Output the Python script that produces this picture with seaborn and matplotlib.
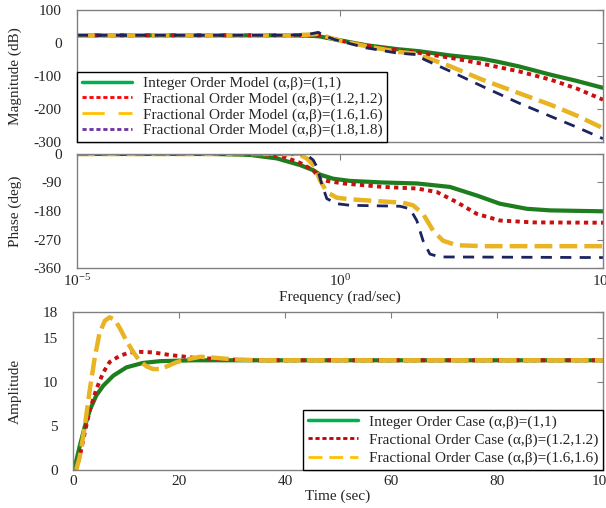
import matplotlib
matplotlib.use("Agg")
import numpy as np
import matplotlib.pyplot as plt
import seaborn as sns
from matplotlib.lines import Line2D

# ---- Bode magnitude (log10 rad/sec, dB)
mag_lw_int = [-5, -1.0, -0.6, -0.4, -0.2, 0, 0.5, 1.1, 1.5, 2.1, 2.7, 3.0, 3.4, 4.0, 4.5, 5]
mag_int = [23, 23, 22, 20, 14, 8, -7, -19, -25, -38, -48, -57, -71, -96, -115, -136]
mag_lw_12 = [-5, -1.0, -0.6, -0.4, -0.2, 0, 0.5, 1.1, 1.5, 2.1, 2.7, 3.4, 4.0, 4.5, 5]
mag_12 = [23, 23, 23, 22, 15, 7, -8, -22, -30, -45, -63, -86, -111, -138, -172]
mag_lw_16 = [-5, -1.0, -0.6, -0.41, -0.2, 0, 0.5, 1.1, 1.45, 1.65, 2.1, 2.7, 3.4, 4.0, 4.5, 5]
mag_16 = [23, 23, 25, 28, 16, 7, -10, -27, -33, -45, -71, -111, -152, -187, -220, -258]
mag_lw_18 = [-5, -1.0, -0.6, -0.41, -0.3, -0.1, 0.5, 1.1, 1.45, 1.6, 2.1, 2.7, 3.4, 4.0, 4.5, 5]
mag_18 = [23, 23, 26, 32, 22, 10, -15, -31, -35, -50, -86, -131, -182, -222, -255, -290]

# ---- Bode phase (log10 rad/sec, deg)
ph_lw_int = [-5, -2.4, -1.71, -1.2, -0.76, -0.51, -0.38, -0.13, 0.19, 0.82, 1.46, 2.09, 2.6, 3.04, 3.55, 3.99, 5]
ph_int = [0, 0, -3, -14, -35, -51, -65, -78, -85, -90, -93, -104, -131, -157, -173, -178, -181]
ph_lw_12 = [-5, -1.5, -1.08, -0.76, -0.51, -0.38, -0.25, 0.06, 0.82, 1.46, 1.84, 2.22, 2.6, 3.04, 3.68, 5]
ph_12 = [0, 0, -8, -28, -51, -78, -85, -93, -104, -109, -120, -152, -189, -210, -216, -217]
ph_lw_16 = [-5, -0.9, -0.76, -0.63, -0.48, -0.38, -0.25, -0.06, 0.19, 0.82, 1.2, 1.39, 1.58, 1.77, 1.96, 2.22, 2.72, 5]
ph_16 = [0, 0, -3, -14, -40, -83, -120, -138, -143, -150, -154, -162, -189, -242, -274, -288, -291, -291]
ph_lw_18 = [-5, -0.7, -0.63, -0.51, -0.44, -0.35, -0.25, -0.06, 0.19, 1.14, 1.33, 1.46, 1.58, 1.71, 1.9, 5]
ph_18 = [0, 0, -3, -19, -40, -93, -141, -157, -162, -165, -173, -210, -274, -316, -325, -327]

# ---- Step response (sec, amplitude)
t_int = [0.2, 1.26, 2.2, 3.15, 4.4, 5.7, 7.6, 10.1, 13.2, 16.4, 19.6, 22.7, 30, 100]
y_int = [0, 2.7, 4.9, 6.8, 8.5, 9.6, 10.75, 11.7, 12.2, 12.4, 12.45, 12.5, 12.5, 12.5]
t_12 = [0.6, 1.26, 2.2, 3.15, 4.4, 5.7, 6.9, 8.8, 10.7, 12.6, 15.1, 18.3, 22.7, 29, 35, 100]
y_12 = [0, 1.5, 4.2, 6.8, 9.2, 11.1, 12.3, 13.0, 13.4, 13.46, 13.4, 13.1, 12.8, 12.6, 12.5, 12.5]
t_16 = [0.6, 1.26, 2.2, 3.15, 4.1, 5.0, 6.0, 6.9, 7.9, 8.8, 10.1, 11.4, 12.6, 13.9, 15.1, 16.4,
        17.7, 19.6, 21.5, 24, 26.5, 30.3, 35, 100]
y_16 = [0, 1.5, 4.9, 9.1, 12.8, 15.6, 17.0, 17.4, 17.1, 16.2, 14.7, 13.4, 12.4, 11.8, 11.5, 11.5,
        11.8, 12.3, 12.6, 12.9, 12.8, 12.6, 12.5, 12.5]

bode_labels = ["Integer Order Model (\u03b1,\u03b2)=(1,1)",
               "Fractional Order Model (\u03b1,\u03b2)=(1.2,1.2)",
               "Fractional Order Model (\u03b1,\u03b2)=(1.6,1.6)",
               "Fractional Order Model (\u03b1,\u03b2)=(1.8,1.8)"]
step_labels = ["Integer Order Case (\u03b1,\u03b2)=(1,1)",
               "Fractional Order Case (\u03b1,\u03b2)=(1.2,1.2)",
               "Fractional Order Case (\u03b1,\u03b2)=(1.6,1.6)"]

sns.set_style("white")
plt.rcParams["font.family"] = ["Liberation Serif", "DejaVu Serif"]
plt.rcParams["mathtext.fontset"] = "custom"
plt.rcParams["mathtext.rm"] = "Liberation Serif"
plt.rcParams["axes.unicode_minus"] = False
plt.rcParams["font.size"] = 11

# line styles: (color, width, dashes)
styles = [("#1e7d1e", 3.0, None),
          ("#c81010", 2.8, (1.1, 1.1)),
          ("#e8b423", 3.2, (4.0, 1.6)),
          ("#1c2460", 2.0, (4.0, 3.0))]
leg_styles = [("#00b050", 2.5, None),
              ("#ff0000", 2.0, (1.5, 1.0)),
              ("#ffc000", 2.0, (8.0, 5.0)),
              ("#7030a0", 2.0, (1.5, 1.0))]
step_leg_styles = [("#00b050", 2.5, None),
                   ("#c00000", 2.0, (1.5, 1.0)),
                   ("#ffc000", 2.0, (5.0, 2.5))]
spine_col = "#808080"


def draw(ax, x, y, st):
    col, lw, dash = st
    sns.lineplot(x=x, y=y, color=col, linewidth=lw, ax=ax)
    if dash is not None:
        ax.lines[-1].set_dashes(dash)


def frame(ax):
    for s in ax.spines.values():
        s.set_color(spine_col)
        s.set_linewidth(1.0)
    ax.tick_params(direction="in", top=True, right=True, length=4, color=spine_col,
                   labelsize=11, width=0.8)
    ax.tick_params(axis="y", pad=11)


def handles(sts):
    out = []
    for col, lw, dash in sts:
        h = Line2D([0], [0], color=col, linewidth=lw)
        if dash is not None:
            h.set_dashes(dash)
        out.append(h)
    return out


fig = plt.figure(figsize=(6.06, 5.08), dpi=100)
ax_mag = fig.add_axes([0.127, 0.7205, 0.868, 0.26])
ax_ph = fig.add_axes([0.127, 0.4724, 0.868, 0.2245])
ax_st = fig.add_axes([0.1205, 0.0748, 0.8746, 0.311])

# Magnitude
mags = [(mag_lw_int, mag_int), (mag_lw_12, mag_12), (mag_lw_16, mag_16), (mag_lw_18, mag_18)]
for (lw_, m), st in zip(mags, styles):
    draw(ax_mag, 10.0 ** np.array(lw_), m, st)
ax_mag.set_xscale("log")
ax_mag.set_xlim(1e-5, 1e5)
ax_mag.set_ylim(-300, 100)
ax_mag.set_xticks([1e-5, 1, 1e5])
ax_mag.xaxis.set_minor_locator(plt.NullLocator())
ax_mag.set_yticks([100, 0, -100, -200, -300])
ax_mag.set_xticklabels([])
ax_mag.set_ylabel("Magnitude (dB)", fontsize=11)
ax_mag.yaxis.set_label_coords(-0.105, 0.5)
frame(ax_mag)
ax_mag.legend(handles(leg_styles), bode_labels, loc="lower left", bbox_to_anchor=(0, 0),
              borderaxespad=0, fancybox=False, framealpha=1, edgecolor="black",
              fontsize=11, handlelength=3.3, handletextpad=0.7, labelspacing=0.12,
              borderpad=0.3).get_frame().set_linewidth(1.0)

# Phase
phs = [(ph_lw_int, ph_int), (ph_lw_12, ph_12), (ph_lw_16, ph_16), (ph_lw_18, ph_18)]
for (lw_, p), st in zip(phs, styles):
    draw(ax_ph, 10.0 ** np.array(lw_), p, st)
ax_ph.set_xscale("log")
ax_ph.set_xlim(1e-5, 1e5)
ax_ph.set_ylim(-360, 0)
ax_ph.set_xticks([1e-5, 1, 1e5])
ax_ph.xaxis.set_minor_locator(plt.NullLocator())
ax_ph.set_yticks([0, -90, -180, -270, -360])
ax_ph.set_xlabel("Frequency (rad/sec)", fontsize=11, labelpad=1)
ax_ph.set_ylabel("Phase (deg)", fontsize=11)
ax_ph.yaxis.set_label_coords(-0.105, 0.5)
frame(ax_ph)

# Step response
steps = [(t_int, y_int), (t_12, y_12), (t_16, y_16)]
step_st = [styles[0], styles[1], ("#e8b423", 3.2, (4.0, 1.4))]
for (t, y), st in zip(steps, step_st):
    draw(ax_st, t, y, st)
ax_st.set_xlim(0, 100)
ax_st.set_ylim(0, 18)
ax_st.set_xticks([0, 20, 40, 60, 80, 100])
ax_st.set_yticks([0, 5, 10, 15, 18])
ax_st.set_xlabel("Time (sec)", fontsize=11, labelpad=1)
ax_st.set_ylabel("Amplitude", fontsize=11)
ax_st.yaxis.set_label_coords(-0.096, 0.5)
frame(ax_st)
ax_st.legend(handles(step_leg_styles), step_labels, loc="lower right", bbox_to_anchor=(1, 0),
             borderaxespad=0, fancybox=False, framealpha=1, edgecolor="black",
             fontsize=11, handlelength=3.3, handletextpad=0.7, labelspacing=0.3,
             borderpad=0.3).get_frame().set_linewidth(1.0)

fig.savefig("out.png", dpi=100)
